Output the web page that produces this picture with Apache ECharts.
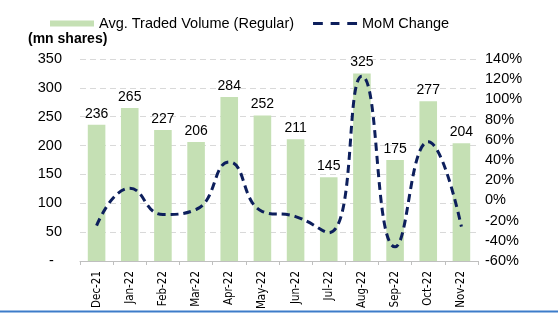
<!DOCTYPE html>
<html><head><meta charset="utf-8">
<script src="https://cdn.jsdelivr.net/npm/echarts@6/dist/echarts.min.js"></script>
<style>html,body{margin:0;padding:0;background:#fff;}#c{width:558px;height:322px;}</style>
</head><body><div id="c"></div>
<script>
const categories = ['Dec-21','Jan-22','Feb-22','Mar-22','Apr-22','May-22','Jun-22','Jul-22','Aug-22','Sep-22','Oct-22','Nov-22'];
const volume = [236,265,227,206,284,252,211,145,325,175,277,204];
const momChange = [-25,12,-14,-9,38,-11,-16,-32,123,-46,58,-26];
const leftTicks = {min:0,max:350,interval:50};
const rightTicks = {min:-60,max:140,interval:20};

const chart = echarts.init(document.getElementById('c'));
const font = 'Liberation Sans, Arial, sans-serif';
const narrow = '"Liberation Sans Narrow", "DejaVu Sans Condensed", "Liberation Sans", sans-serif';
chart.setOption({
  animation:false,
  textStyle:{fontFamily:font,color:'#000'},
  legend:{
    left:50, top:16, padding:0, itemWidth:44, itemHeight:6, itemGap:19,
    textStyle:{fontFamily:font,fontSize:14.5,color:'#000'},
    data:[
      {name:'Avg. Traded Volume (Regular)', icon:'rect', itemStyle:{color:'#c5e0b4'}},
      {name:'MoM Change', icon:'path://M0,0h10v3h-10z M18,0h9v3h-9z M35,0h10v3h-10z', itemStyle:{color:'#0d1f5c',borderWidth:0}}
    ]
  },
  graphic:[
    {type:'text', left:28, top:32, style:{text:'(mn shares)', font:'bold 14px '+font, fill:'#000'}},
    {type:'line', shape:{x1:0,y1:311.5,x2:558,y2:311.5}, style:{stroke:'#3d7cc9',lineWidth:2}}
  ],
  grid:{left:80,right:80,top:59,bottom:61},
  xAxis:{
    type:'category', data:categories, boundaryGap:true,
    axisLine:{lineStyle:{color:'#bfbfbf'}},
    axisTick:{show:true,length:4,lineStyle:{color:'#bfbfbf'}},
    axisLabel:{rotate:90,fontSize:11.5,color:'#000',fontFamily:narrow,margin:10}
  },
  yAxis:[
    {type:'value', min:leftTicks.min, max:leftTicks.max, interval:leftTicks.interval,
     axisLine:{show:false}, axisTick:{show:false},
     splitLine:{lineStyle:{color:'#d9d9d9',type:[6,4]}},
     axisLabel:{fontSize:14.5,color:'#000',fontFamily:font,margin:18,
       formatter:v=>v===0?'-  ':String(v)}},
    {type:'value', min:rightTicks.min, max:rightTicks.max, interval:rightTicks.interval,
     axisLine:{show:false}, axisTick:{show:false}, splitLine:{show:false},
     axisLabel:{fontSize:14.5,color:'#000',fontFamily:font,margin:7,
       formatter:v=>v+'%'}}
  ],
  series:[
    {name:'Avg. Traded Volume (Regular)', type:'bar', data:volume, yAxisIndex:0,
     barWidth:'53%', itemStyle:{color:'#c5e0b4'},
     label:{show:true,position:'top',distance:4,fontSize:14,color:'#000',fontFamily:font}},
    {name:'MoM Change', type:'line', data:momChange, yAxisIndex:1, smooth:0.5,
     symbol:'none', lineStyle:{color:'#0d1f5c',width:3,type:[8,5]},
     itemStyle:{color:'#0d1f5c'}, z:5}
  ]
});
</script></body></html>
